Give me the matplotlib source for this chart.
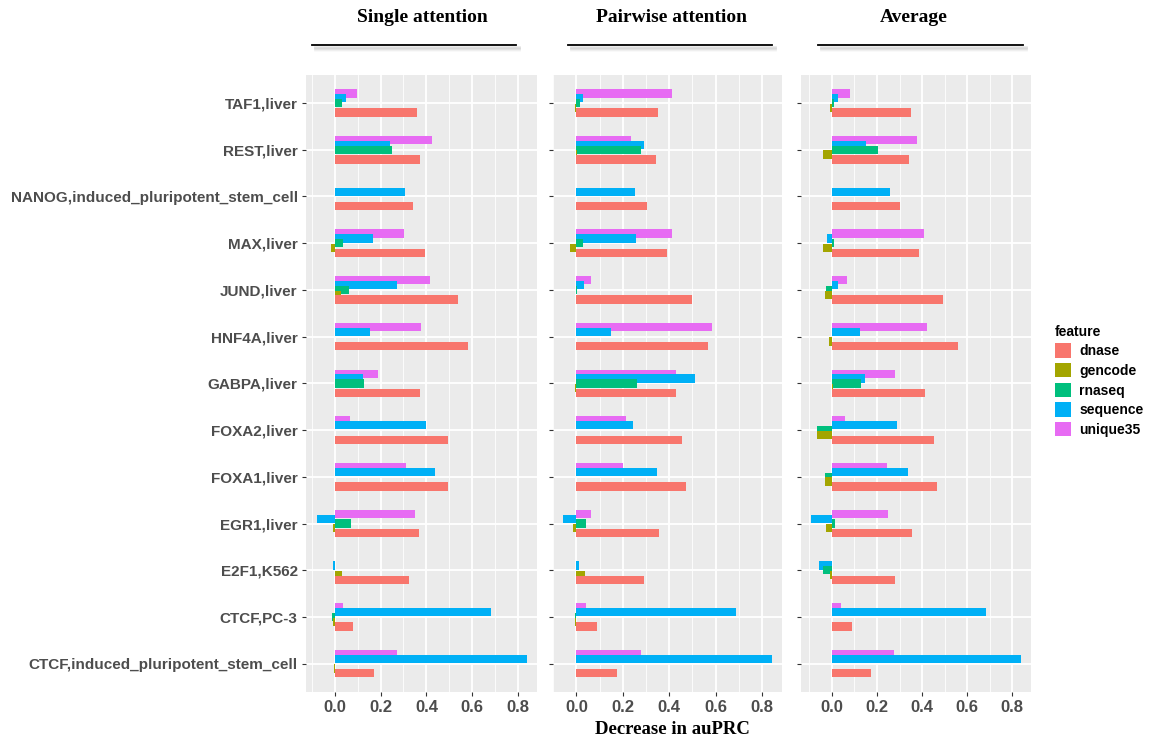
import numpy as np
import matplotlib
matplotlib.use("Agg")
import matplotlib.pyplot as plt
from matplotlib.patches import Patch
from matplotlib.ticker import MultipleLocator

# ==========================================================
# Data (categories listed top to bottom)
# ==========================================================

categories = [
    "TAF1,liver",
    "REST,liver",
    "NANOG,induced_pluripotent_stem_cell",
    "MAX,liver",
    "JUND,liver",
    "HNF4A,liver",
    "GABPA,liver",
    "FOXA2,liver",
    "FOXA1,liver",
    "EGR1,liver",
    "E2F1,K562",
    "CTCF,PC-3",
    "CTCF,induced_pluripotent_stem_cell",
]

features = ["dnase", "gencode", "rnaseq", "sequence", "unique35"]
colors = ["#F8766D", "#A3A500", "#00BF7D", "#00B0F6", "#E76BF3"]

single_dnase = [0.359, 0.370, 0.340, 0.392, 0.538, 0.582, 0.370, 0.494, 0.494, 0.366, 0.325, 0.082, 0.172]
single_gencode = [0.003, 0.002, 0.0, -0.015, 0.026, 0.0, 0.003, 0.003, 0.002, -0.009, 0.034, -0.007, -0.004]
single_rnaseq = [0.034, 0.251, 0.0, 0.038, 0.064, 0.0, 0.130, 0.0, 0.003, 0.071, 0.0, -0.012, 0.0]
single_sequence = [0.048, 0.242, 0.306, 0.165, 0.273, 0.153, 0.122, 0.399, 0.437, -0.079, -0.009, 0.683, 0.836]
single_unique35 = [0.096, 0.423, 0.0, 0.302, 0.414, 0.376, 0.187, 0.067, 0.310, 0.351, 0.0, 0.038, 0.272]

pair_dnase = [0.351, 0.343, 0.303, 0.392, 0.498, 0.565, 0.428, 0.454, 0.472, 0.355, 0.292, 0.089, 0.176]
pair_gencode = [-0.004, 0.003, 0.0, -0.029, 0.0, 0.0, -0.004, 0.0, 0.0, -0.016, 0.036, -0.004, 0.0]
pair_rnaseq = [0.017, 0.278, 0.0, 0.029, 0.003, 0.0, 0.263, 0.0, 0.0, 0.040, 0.0, -0.007, 0.0]
pair_sequence = [0.029, 0.292, 0.253, 0.256, 0.033, 0.147, 0.509, 0.245, 0.348, -0.056, 0.011, 0.688, 0.841]
pair_unique35 = [0.414, 0.235, 0.0, 0.411, 0.062, 0.585, 0.428, 0.212, 0.200, 0.064, 0.0, 0.040, 0.278]

avg_dnase = [0.349, 0.341, 0.303, 0.385, 0.491, 0.560, 0.413, 0.454, 0.466, 0.356, 0.281, 0.091, 0.174]
avg_gencode = [-0.010, -0.041, 0.0, -0.041, -0.029, -0.015, 0.004, -0.068, -0.029, -0.026, -0.010, -0.002, 0.0]
avg_rnaseq = [0.007, 0.204, 0.0, 0.007, -0.025, 0.0, 0.129, -0.068, -0.029, 0.015, -0.041, -0.001, 0.0]
avg_sequence = [0.026, 0.151, 0.257, -0.022, 0.026, 0.125, 0.147, 0.287, 0.337, -0.091, -0.056, 0.685, 0.837]
avg_unique35 = [0.082, 0.379, 0.0, 0.409, 0.068, 0.421, 0.281, 0.060, 0.243, 0.250, 0.0, 0.041, 0.276]

panel_titles = ["Single attention", "Pairwise attention", "Average"]

panels = [
    [single_dnase, single_gencode, single_rnaseq, single_sequence, single_unique35],
    [pair_dnase, pair_gencode, pair_rnaseq, pair_sequence, pair_unique35],
    [avg_dnase, avg_gencode, avg_rnaseq, avg_sequence, avg_unique35],
]

# ==========================================================
# Figure
# ==========================================================

W, H = 1152, 740
fig = plt.figure(figsize=(W / 100, H / 100), dpi=100)

panel_px = [(306, 537), (553, 782), (801, 1031)]
title_px = [422, 672, 914]
line_px = [(312, 516), (568, 772), (818, 1023)]
top_px, bottom_px = 75, 691.7

grey = "#4D4D4D"
n = len(categories)
ypos = np.arange(n)[::-1]
step = 0.103
bar_h = 0.178
offsets = [-2 * step, -step, 0, step, 2 * step]

for p, (x0, x1) in enumerate(panel_px):

    ax = fig.add_axes([
        x0 / W,
        1 - bottom_px / H,
        (x1 - x0) / W,
        (bottom_px - top_px) / H,
    ])

    ax.set_facecolor("#EBEBEB")

    # draw unique35 first so lower bars overlap the upper ones
    for k in range(len(features) - 1, -1, -1):
        ax.barh(
            ypos + offsets[k],
            panels[p][k],
            height=bar_h,
            color=colors[k],
            zorder=3,
        )

    vals = np.concatenate([np.array(v) for v in panels[p]])
    lo, hi = min(vals.min(), 0), vals.max()
    pad = (hi - lo) * 0.05
    ax.set_xlim(lo - pad, hi + pad)
    ax.set_ylim(-0.6, n - 1 + 0.6)

    ax.xaxis.set_major_locator(MultipleLocator(0.2))
    ax.xaxis.set_minor_locator(MultipleLocator(0.1))
    ax.grid(which="major", color="white", linewidth=1.3, zorder=1)
    ax.grid(which="minor", axis="x", color="white", linewidth=0.6, zorder=1)
    ax.set_axisbelow(True)

    for s in ax.spines.values():
        s.set_visible(False)

    ax.set_yticks(ypos)
    if p == 0:
        ax.set_yticklabels(categories, fontsize=11, fontweight="bold",
                           color=grey, family="Liberation Sans")
    else:
        ax.set_yticklabels([])

    ax.set_xticks([0.0, 0.2, 0.4, 0.6, 0.8])
    ax.set_xticklabels(["0.0", "0.2", "0.4", "0.6", "0.8"], fontsize=12,
                       fontweight="bold", color=grey, family="Liberation Sans")
    ax.tick_params(which="major", length=3, color="#333333", pad=3)
    ax.tick_params(which="minor", length=0)

    # title and shadowed underline
    fig.text(title_px[p] / W, 1 - 18 / H, panel_titles[p], ha="center", va="center",
             fontsize=14, fontweight="bold", family="Liberation Serif")
    lx0, lx1 = line_px[p]
    for d, a in [(5, 0.05), (4, 0.08), (3, 0.12), (2, 0.16)]:
        fig.add_artist(plt.Line2D([(lx0 + 3) / W, (lx1 + 3) / W], [1 - (45 + d) / H] * 2,
                                  color="grey", alpha=a, linewidth=2))
    fig.add_artist(plt.Line2D([lx0 / W, lx1 / W], [1 - 45 / H] * 2,
                              color="black", linewidth=1.3))

fig.text(672 / W, 1 - 730 / H, "Decrease in auPRC", ha="center", va="center",
         fontsize=13.5, fontweight="bold", family="Liberation Serif")

handles = [Patch(facecolor=c, edgecolor="none") for c in colors]
leg = fig.legend(
    handles, features,
    title="feature",
    loc="upper left",
    bbox_to_anchor=(1042 / W, 1 - 312 / H),
    frameon=False,
    handlelength=1.2,
    handleheight=1.2,
    labelspacing=0.35,
    handletextpad=0.6,
    prop={"family": "Liberation Sans", "size": 10, "weight": "bold"},
)
leg.get_title().set_fontweight("bold")
leg.get_title().set_fontsize(10)
leg.get_title().set_family("Liberation Sans")
leg._legend_box.align = "left"

fig.savefig("out.png", dpi=100)
